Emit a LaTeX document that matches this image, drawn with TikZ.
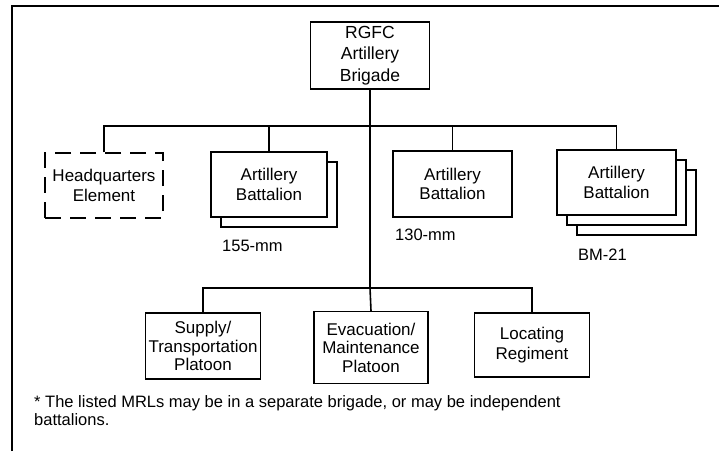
\documentclass[tikz,border=0pt]{standalone}
\usepackage{fontspec}
\setmainfont{Liberation Sans}
\usetikzlibrary{shadows}

\tikzset{
  unitbox/.style={draw, fill=white, line width=1.2pt, inner sep=0pt, align=center,
    font=\fontsize{17}{19.5}\selectfont},
  hqbox/.style={unitbox, dash pattern=on 16pt off 9pt},
  onecopy/.style={copy shadow={shadow xshift=10pt, shadow yshift=-10pt}},
  twocopies/.style={double copy shadow={shadow xshift=10pt, shadow yshift=-10pt}},
  caliber/.style={anchor=west, inner sep=0pt, font=\fontsize{16.5}{18}\selectfont},
  link/.style={line width=1.3pt}
}

\begin{document}
\begin{tikzpicture}[x=1pt,y=-1pt]
\useasboundingbox (0,0) rectangle (719,451);

% cadre
\draw[line width=2pt] (12,451) -- (12,6) -- (719,6);

% brigade
\node[unitbox, minimum width=119pt, minimum height=67pt,
  font=\fontsize{17.5}{21.5}\selectfont] (brigade) at (370,55.5) {RGFC\\Artillery\\Brigade};

% premier niveau
\node[hqbox, minimum width=118pt, minimum height=65pt] (hq) at (104,185.5) {Headquarters\\Element};
\node[unitbox, onecopy, minimum width=116pt, minimum height=65pt] (bnA) at (269,184.5) {Artillery\\Battalion};
\node[unitbox, minimum width=119pt, minimum height=66pt] (bnB) at (452.5,184) {Artillery\\Battalion};
\node[unitbox, twocopies, minimum width=119pt, minimum height=65pt] (bnC) at (616.5,182.5) {Artillery\\Battalion};

% calibres
\node[caliber] (calA) at (222,246) {155-mm};
\node[caliber] (calB) at (395,235) {130-mm};
\node[caliber] (calC) at (578,255) {BM-21};

% second niveau
\node[unitbox, minimum width=115pt, minimum height=66pt, font=\fontsize{17}{18.5}\selectfont] (supply) at (203,346) {Supply/\\Transportation\\Platoon};
\node[unitbox, minimum width=114pt, minimum height=72pt, font=\fontsize{17}{18.5}\selectfont] (evac) at (371,347.5) {Evacuation/\\Maintenance\\Platoon};
\node[unitbox, minimum width=115pt, minimum height=64pt] (locating) at (532,345) {Locating\\Regiment};

% liaisons
\coordinate (topbar) at (370,126);
\coordinate (lowbar) at (370,288);
\draw[link] (brigade.south) -- (topbar);
\draw[link] (hq.north) |- (topbar) -| (bnC.north);
\foreach \u in {bnA, bnB} {
  \draw[link] (\u.north) -- (\u.north |- topbar);
}
\draw[line width=2pt] (topbar) -- (lowbar);
\draw[link] (supply.north) |- (lowbar) -| (locating.north);
\draw[line width=1.6pt] (lowbar) -- (evac.north);

% note
\node[anchor=north west, inner sep=0pt, align=left,
  font=\fontsize{16.5}{18}\selectfont] (note) at (34,395)
  {* The listed MRLs may be in a separate brigade, or may be independent\\battalions.};

\end{tikzpicture}
\end{document}
